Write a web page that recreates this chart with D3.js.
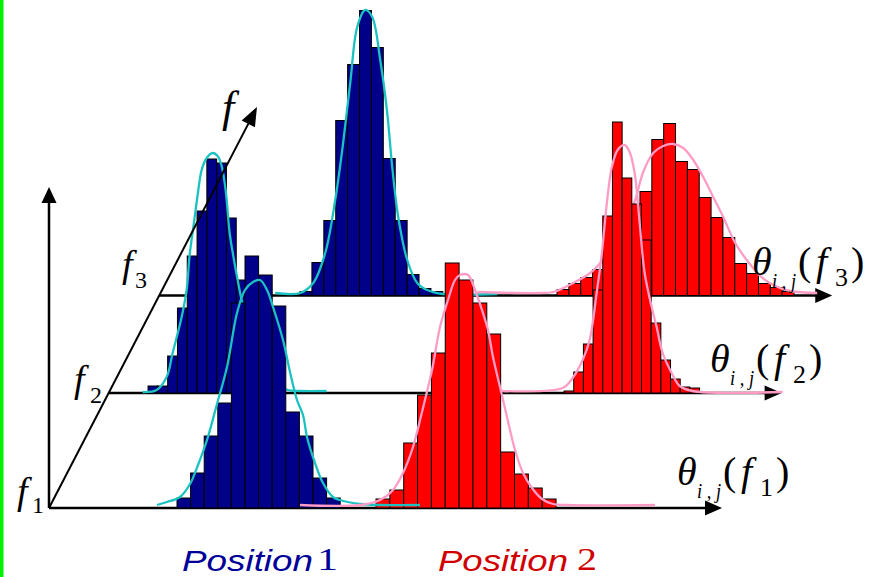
<!DOCTYPE html>
<html><head><meta charset="utf-8">
<script src="https://cdn.jsdelivr.net/npm/d3@7"></script>
<style>
html,body{margin:0;padding:0;background:#fff;overflow:hidden}
#chart text{font-family:"Liberation Serif","Times New Roman",serif}
#chart text.sans{font-family:"Liberation Sans",Arial,sans-serif}
#chart text.it{font-style:italic}
</style>
</head><body><svg id="chart" width="869" height="577"></svg>
<script>
// ================= DATA =================
const fLevels = [1, 2, 3];
const fSubscripts = ["1", "2", "3"];
const thetaSymbol = "θ";
const thetaSubscript = "i , j";
const legendWords = ["Position", "Position"];
const legendNumbers = ["1", "2"];

// Histograms: first bin start (θ units), bin width (θ units), bin densities
const pos1F1Start = 12.8, pos1F1Width = 1.36;
const pos1F1Bins = [1.0, 3.5, 7.2, 10.5, 20.5, 25.2, 23.3, 20.2, 9.6, 7.2, 3.0, 1.0];
const pos2F1Start = 32.7, pos2F1Width = 1.385;
const pos2F1Bins = [0.9, 1.8, 6.5, 11.3, 15.5, 24.5, 22.8, 20.5, 17.4, 5.6, 3.4, 2.0, 0.9];

const pos1F2Start = 3.94, pos1F2Width = 0.98;
const pos1F2Bins = [0.7, 0.7, 3.7, 8.5, 13.7, 18.2, 23.4, 23.0, 17.5, 11.3, 6.0, 2.5, 0.8, 0.3];
const pos2F2Start = 45.54, pos2F2Width = 0.968;
const pos2F2Bins = [0.2, 2.1, 4.9, 10.3, 17.7, 27.1, 21.5, 18.9, 15.3, 7.0, 3.3, 1.4, 0.6, 0.5];

const pos1F3Start = 14.08, pos1F3Width = 1.19;
const pos1F3Bins = [0.4, 3.3, 7.5, 17.5, 23.1, 28.5, 24.8, 13.7, 7.5, 2.1, 0.7, 0.4];
const pos2F3Start = 39.78, pos2F3Width = 1.185;
const pos2F3Bins = [0.6, 1.2, 1.8, 2.6, 4.6, 6.6, 8.6, 10.4, 15.6, 17.2, 13.4, 12.6, 9.8, 7.8, 5.8, 3.2, 2.2, 1.2, 0.8, 0.4];

// Density curves: [θ, density]
const pos1F1Curve = [[10.8,0.3],[11.8,0.6],[13.1,1.1],[14.1,2.4],[14.9,4.3],[15.8,6.8],[16.8,10.4],[17.8,14.1],[18.8,19.5],[19.6,21.8],[20.4,22.6],[21.1,22.8],[21.8,21.8],[22.4,20.1],[23.4,16.8],[24.1,13.6],[24.8,10.8],[25.4,9.3],[25.8,7.1],[26.6,4.5],[27.4,2.5],[28.4,1.1],[29.1,0.8],[31.1,0.4],[33.1,0.3],[37.1,0.3]];
const pos2F1Curve = [[25.1,0.3],[31.1,0.3],[33.1,0.8],[34.4,1.8],[35.4,3.5],[36.4,6.1],[37.3,9.6],[38.3,13.8],[39.1,18.1],[39.9,20.8],[40.6,22.8],[41.1,23.3],[41.9,23.3],[42.6,21.8],[43.3,19.8],[43.9,17.8],[44.4,15.1],[45.1,12.1],[45.8,9.1],[46.6,5.8],[47.4,3.5],[48.3,2.0],[49.3,0.9],[50.4,0.4],[51.8,0.3],[60.6,0.3]];
const pos1F2Curve = [[3.4,0.1],[4.8,0.3],[5.8,1.6],[6.4,4.0],[7.3,7.6],[7.8,10.3],[8.1,13.8],[8.5,16.8],[8.9,19.8],[9.3,22.3],[9.8,23.5],[10.4,24.0],[10.9,23.7],[11.3,22.7],[11.7,20.3],[12.1,16.0],[12.5,13.5],[12.9,11.3],[13.3,9.3],[14.1,6.3],[15.1,3.3],[16.1,1.5],[17.1,0.7],[17.9,0.3],[19.1,0.2],[21.8,0.2]];
const pos2F2Curve = [[39.3,0.2],[45.4,0.5],[46.4,1.5],[47.4,3.3],[48.1,5.3],[48.8,10.0],[49.3,13.8],[49.8,18.8],[50.3,22.5],[50.9,24.3],[51.6,24.8],[52.1,24.1],[52.6,22.0],[53.1,17.0],[53.6,12.0],[54.3,8.6],[54.8,6.6],[55.4,4.0],[56.3,2.0],[57.1,0.7],[58.4,0.2],[67.4,0.1]];
const pos1F3Curve = [[11.6,0.25],[14.1,0.25],[15.4,1.25],[16.6,4.25],[17.6,9.55],[18.3,14.55],[19.1,21.25],[19.8,26.85],[20.6,28.55],[21.3,27.85],[22.1,23.55],[22.8,18.25],[23.3,12.85],[23.9,7.85],[24.8,3.55],[25.8,1.25],[26.8,0.55],[28.4,0.15],[33.8,0.15]];
const pos2F3Curve = [[31.8,0.35],[38.1,0.25],[39.4,0.35],[41.4,1.25],[43.1,2.25],[44.1,3.25],[45.1,4.55],[46.1,6.05],[46.9,7.85],[47.6,9.55],[48.4,12.35],[49.4,14.25],[50.4,14.95],[51.4,15.15],[52.4,14.75],[53.4,13.55],[54.4,11.85],[55.4,9.85],[56.4,7.85],[57.6,5.25],[58.9,3.35],[60.1,1.95],[61.4,1.05],[63.1,0.45],[65.8,0.25]];

// ================= LAYOUT / STYLE =================
const blueFill = "#000088", redFill = "#ff0000";
const cyan = "#1cc2c2", pink = "#ff9cc6";
const blueText = "#000099", redText = "#d00000";

const svg = d3.select("#chart");
const labels = svg.append("g").attr("class", "labels");

function txt(x, y, s, size, opts) {
  opts = opts || {};
  const t = labels.append("text").attr("x", x).attr("y", y).text(s)
    .attr("font-size", size).attr("fill", opts.fill || "#000")
    .attr("class", (opts.sans ? "sans " : "") + (opts.italic ? "it" : ""));
  if (opts.len) t.attr("textLength", opts.len).attr("lengthAdjust", "spacingAndGlyphs");
  return t;
}
txt(222, 122, "f", 44, {italic: true});
const fLabelPos = {1: [17, 504, 32, 513], 2: [74, 392, 90, 403], 3: [122, 277, 135, 288]};
fLevels.forEach((f, i) => {
  const p = fLabelPos[f];
  txt(p[0], p[1], "f", 38, {italic: true});
  txt(p[2], p[3], fSubscripts[i], 24);
});
const thetaPos = {1: [677, 485], 2: [710, 372], 3: [752, 275]};
fLevels.forEach((f, i) => {
  const [x, y] = thetaPos[f];
  txt(x, y, thetaSymbol, 40, {italic: true});
  txt(x + 20, y + 13, thetaSubscript, 21, {italic: true, len: 24});
  txt(x + 46, y, "(", 40);
  txt(x + 64, y, "f", 40, {italic: true});
  txt(x + 83, y + 11, fSubscripts[i], 26);
  txt(x + 99, y, ")", 40);
});
txt(182, 571, legendWords[0], 30, {italic: true, sans: true, fill: blueText, len: 131});
txt(317, 570, legendNumbers[0], 31, {fill: blueText, len: 21});
txt(438, 571, legendWords[1], 30, {italic: true, sans: true, fill: redText, len: 130});
txt(577, 570, legendNumbers[1], 31, {fill: redText, len: 20});

svg.insert("rect", ":first-child").attr("x",0).attr("y",0).attr("width",3.5).attr("height",577).attr("fill","#00f000");

const fY = d3.scaleLinear().domain(fLevels).range([508, 393, 295.5]);
const axO = {x: 49, y: 508}, axTip = {x: 257, y: 107};
const slope = (axTip.x - axO.x) / (axO.y - axTip.y);
const originX = f => axO.x + (axO.y - fY(f)) * slope;
const theta = d3.scaleLinear().domain([0, 67.3]).range([0, 673]);
const dens = d3.scaleLinear().domain([0, 30]).range([0, 300]);
const xAt = (f, t) => originX(f) + theta(t);

function arrowLine(g, x1, y1, x2, y2, w, len, half) {
  const dx = x2 - x1, dy = y2 - y1, L = Math.hypot(dx, dy);
  const ux = dx / L, uy = dy / L, nx = -uy, ny = ux;
  const bx = x2 - ux * len, by = y2 - uy * len;
  g.append("line").attr("x1", x1).attr("y1", y1).attr("x2", bx + ux * 2).attr("y2", by + uy * 2)
    .attr("stroke", "#000").attr("stroke-width", w);
  g.append("path")
    .attr("d", `M${x2},${y2}L${bx + nx*half},${by + ny*half}L${bx - nx*half},${by - ny*half}Z`)
    .attr("fill", "#000");
}

const hists = {
  1: [[pos1F1Start, pos1F1Width, pos1F1Bins, blueFill], [pos2F1Start, pos2F1Width, pos2F1Bins, redFill]],
  2: [[pos1F2Start, pos1F2Width, pos1F2Bins, blueFill], [pos2F2Start, pos2F2Width, pos2F2Bins, redFill]],
  3: [[pos1F3Start, pos1F3Width, pos1F3Bins, blueFill], [pos2F3Start, pos2F3Width, pos2F3Bins, redFill]]
};
const curves = {
  1: [[pos1F1Curve, cyan], [pos2F1Curve, pink]],
  2: [[pos1F2Curve, cyan], [pos2F2Curve, pink]],
  3: [[pos1F3Curve, cyan], [pos2F3Curve, pink]]
};

[3, 2, 1].forEach(f => {
  const g = svg.append("g");
  const y0 = fY(f);
  arrowLine(g, originX(f), y0, originX(f) + theta(67.3), y0, 2.5, 17, 7.5);
  hists[f].forEach(([start, w, bins, fill]) => {
    g.append("g").selectAll("rect").data(bins).join("rect")
      .attr("x", (d, i) => xAt(f, start + i * w))
      .attr("y", d => y0 - dens(d))
      .attr("width", theta(w))
      .attr("height", d => dens(d))
      .attr("fill", fill).attr("stroke", "#000").attr("stroke-width", 1);
  });
  curves[f].forEach(([pts, col]) => {
    const line = d3.line().x(d => xAt(f, d[0])).y(d => y0 - dens(d[1]))
      .curve(d3.curveCatmullRom.alpha(0.5));
    g.append("path").attr("d", line(pts)).attr("fill", "none")
      .attr("stroke", col).attr("stroke-width", 2.3);
  });
});

const ax = svg.append("g");
arrowLine(ax, axO.x, axO.y, axO.x, 187, 2.5, 16, 7.5);
arrowLine(ax, axO.x, axO.y, axTip.x, axTip.y, 2, 19, 7.5);

labels.raise();
</script></body></html>
